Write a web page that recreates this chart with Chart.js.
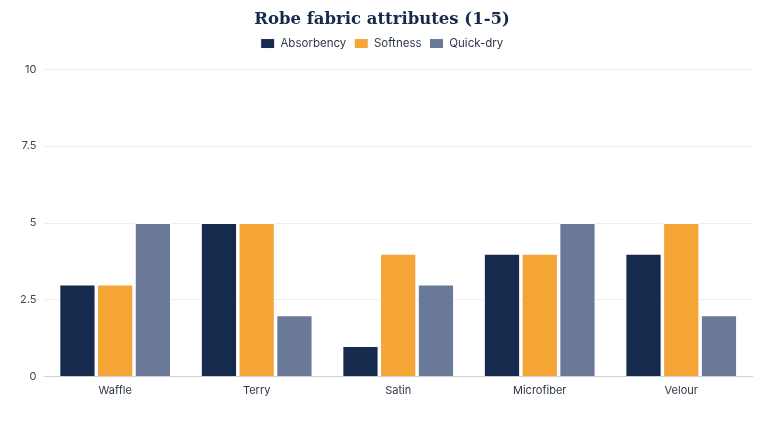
<!DOCTYPE html>
<html>
<head>
<meta charset="utf-8">
<script src="https://cdn.jsdelivr.net/npm/chart.js@4"></script>
<style>
  html, body { margin: 0; padding: 0; background: #fff; }
  #wrap { width: 768px; height: 424px; position: relative; }
</style>
</head>
<body>
<div id="wrap"><canvas id="chart"></canvas></div>
<script>
const fabrics = ["Waffle", "Terry", "Satin", "Microfiber", "Velour"];
const absorbency = [3, 5, 1, 4, 4];
const softness = [3, 5, 4, 4, 5];
const quickDry = [5, 2, 3, 5, 2];

Chart.defaults.font.family = "Inter, 'Noto Sans', sans-serif";

// a bit more room under the legend
const legendGap = {
  id: "legendGap",
  beforeInit(chart) {
    const fit = chart.legend.fit;
    chart.legend.fit = function () {
      fit.bind(chart.legend)();
      this.height += 10;
    };
  }
};

const ctx = document.getElementById("chart");
new Chart(ctx, {
  type: "bar",
  data: {
    labels: fabrics,
    datasets: [
      { label: "Absorbency", data: absorbency, backgroundColor: "#152a4c" },
      { label: "Softness", data: softness, backgroundColor: "#f4a536" },
      { label: "Quick-dry", data: quickDry, backgroundColor: "#6b7999" }
    ]
  },
  options: {
    responsive: true,
    maintainAspectRatio: false,
    animation: false,
    layout: { padding: { left: 12, right: 16, top: 0, bottom: 20 } },
    datasets: {
      bar: { borderColor: "#ffffff", borderWidth: 1, categoryPercentage: 0.8, barPercentage: 0.96 }
    },
    plugins: {
      title: {
        display: true,
        text: "Robe fabric attributes (1-5)",
        color: "#152a4c",
        font: { family: "'DejaVu Serif', serif", size: 16.5, weight: "bold" },
        padding: { top: 10, bottom: 0 }
      },
      legend: {
        labels: { boxWidth: 14, boxHeight: 10, padding: 8, color: "#2d3748", font: { size: 11.5 } }
      }
    },
    scales: {
      x: {
        grid: { display: false, drawTicks: false },
        border: { color: "#d0d4da" },
        ticks: { color: "#2d3748", font: { size: 11 }, padding: 7 }
      },
      y: {
        min: 0,
        max: 10,
        ticks: { stepSize: 2.5, color: "#3a4556", font: { size: 11 }, padding: 8 },
        grid: { color: "#eeeeee", drawTicks: false },
        border: { display: false }
      }
    }
  },
  plugins: [legendGap]
});
</script>
</body>
</html>
